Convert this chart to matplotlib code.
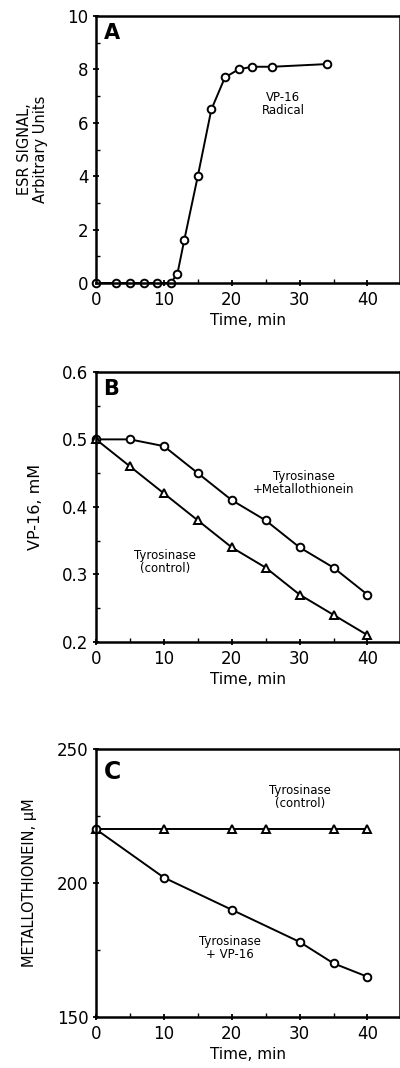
import matplotlib
matplotlib.use("Agg")
import matplotlib.pyplot as plt
from matplotlib.ticker import MultipleLocator

plt.rcParams["font.family"] = ["DejaVu Sans"]

# Panel A: ESR signal of VP-16 radical
time_a = [0, 3, 5, 7, 9, 11, 12, 13, 15, 17, 19, 21, 23, 26, 34]
esr_a = [0, 0, 0, 0, 0, 0, 0.35, 1.6, 4.0, 6.5, 7.7, 8.0, 8.1, 8.1, 8.2]

# Panel B: VP-16 concentration
time_b = [0, 5, 10, 15, 20, 25, 30, 35, 40]
vp16_mt = [0.50, 0.50, 0.49, 0.45, 0.41, 0.38, 0.34, 0.31, 0.27]
vp16_ctrl = [0.50, 0.46, 0.42, 0.38, 0.34, 0.31, 0.27, 0.24, 0.21]

# Panel C: metallothionein concentration
time_c_ctrl = [0, 10, 20, 25, 35, 40]
mt_ctrl = [220, 220, 220, 220, 220, 220]
time_c_vp = [0, 10, 20, 30, 35, 40]
mt_vp = [220, 202, 190, 178, 170, 165]

fig = plt.figure(figsize=(4.0, 10.68), dpi=100)
ax_a = fig.add_axes([0.24, 0.735, 0.76, 0.25])
ax_b = fig.add_axes([0.24, 0.399, 0.76, 0.2528])
ax_c = fig.add_axes([0.24, 0.0478, 0.76, 0.251])

line_kw = dict(color="black", lw=1.4, ms=5.5, mew=1.4, mfc="white", mec="black", clip_on=False)


def style(ax, ymin, ymax, ymajor, yminor):
    ax.set_xlim(0, 44.8)
    ax.set_ylim(ymin, ymax)
    ax.xaxis.set_major_locator(MultipleLocator(10))
    ax.xaxis.set_minor_locator(MultipleLocator(5))
    ax.yaxis.set_major_locator(MultipleLocator(ymajor))
    ax.yaxis.set_minor_locator(MultipleLocator(yminor))
    ax.tick_params(which="major", direction="inout", length=5, width=1.3, labelsize=12, pad=3)
    ax.tick_params(which="minor", direction="in", length=3, width=1.0)
    for s in ax.spines.values():
        s.set_linewidth(1.8)
    ax.set_xlabel("Time, min", fontsize=11, labelpad=3)


ax_a.plot(time_a, esr_a, marker="o", **line_kw)
style(ax_a, 0, 10, 2, 1)
ax_a.set_ylabel("ESR SIGNAL,\nArbitrary Units", fontsize=10.5, labelpad=14, linespacing=1.05)
ax_a.text(0.025, 0.935, "A", transform=ax_a.transAxes, fontsize=15, fontweight="bold", va="center")
ax_a.text(27.6, 6.7, "VP-16\nRadical", ha="center", va="center", fontsize=8.5, linespacing=1.0)

ax_b.plot(time_b, vp16_mt, marker="o", **line_kw)
ax_b.plot(time_b, vp16_ctrl, marker="^", **line_kw)
style(ax_b, 0.2, 0.6, 0.1, 0.05)
ax_b.set_yticks([0.2, 0.3, 0.4, 0.5, 0.6])
ax_b.set_yticklabels(["0.2", "0.3", "0.4", "0.5", "0.6"])
ax_b.set_ylabel("VP-16, mM", fontsize=11.5, labelpad=14)
ax_b.text(0.025, 0.935, "B", transform=ax_b.transAxes, fontsize=15, fontweight="bold", va="center")
ax_b.text(30.6, 0.436, "Tyrosinase\n+Metallothionein", ha="center", va="center", fontsize=8.5, linespacing=1.0)
ax_b.text(10.2, 0.319, "Tyrosinase\n(control)", ha="center", va="center", fontsize=8.5, linespacing=1.0)

ax_c.plot(time_c_ctrl, mt_ctrl, marker="^", **line_kw)
ax_c.plot(time_c_vp, mt_vp, marker="o", **line_kw)
style(ax_c, 150, 250, 50, 25)
ax_c.set_ylabel("METALLOTHIONEIN, \u00b5M", fontsize=10.5, labelpad=14)
ax_c.text(0.025, 0.915, "C", transform=ax_c.transAxes, fontsize=17, fontweight="bold", va="center")
ax_c.text(30.1, 232, "Tyrosinase\n(control)", ha="center", va="center", fontsize=8.5, linespacing=1.0)
ax_c.text(19.8, 175.7, "Tyrosinase\n+ VP-16", ha="center", va="center", fontsize=8.5, linespacing=1.0)

fig.savefig("out.png", dpi=100)
